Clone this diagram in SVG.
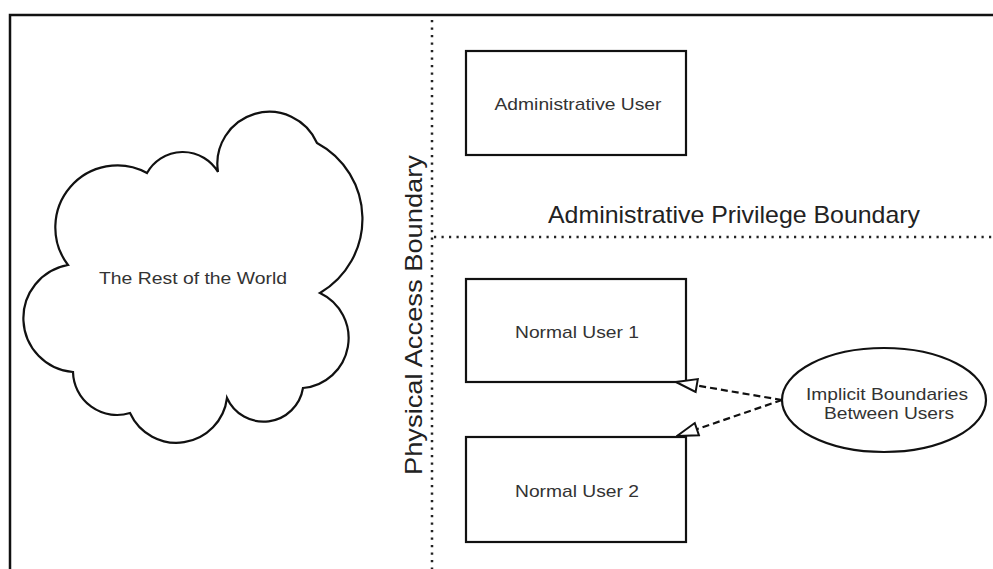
<svg xmlns="http://www.w3.org/2000/svg" width="993" height="569" viewBox="0 0 993 569">
<defs>
<style>
.frame{fill:none;stroke:#111;stroke-width:2.5}
.box{fill:#fff;stroke:#111;stroke-width:2.2}
.dot{fill:none;stroke:#222;stroke-width:2.5;stroke-dasharray:2.2 5.3}
.dash{fill:none;stroke:#111;stroke-width:2.2;stroke-dasharray:7 4}
.lbl{font-family:"Liberation Sans",Arial,sans-serif;font-size:17px;fill:#333;text-anchor:middle}
.big{font-family:"Liberation Sans",Arial,sans-serif;font-size:24px;fill:#222;text-anchor:middle}
</style>
<marker id="tri" viewBox="0 0 24 16" refX="23" refY="8" markerWidth="24" markerHeight="16" markerUnits="userSpaceOnUse" orient="auto">
<path d="M23,8 L2,1.5 L2,14.5 Z" fill="#fff" stroke="#111" stroke-width="2"/>
</marker>
</defs>
<rect width="993" height="569" fill="#fff"/>
<path class="frame" d="M10,569 V15 H993"/>
<g id="boundaries">
<line class="dot" x1="432" y1="20" x2="432" y2="569"/>
<line class="dot" x1="434" y1="237" x2="993" y2="237"/>
<text class="big" x="734" y="223" textLength="372" lengthAdjust="spacingAndGlyphs">Administrative Privilege Boundary</text>
<text class="big" transform="translate(422,315) rotate(-90)" textLength="320" lengthAdjust="spacingAndGlyphs">Physical Access Boundary</text>
</g>
<g id="world">
<path class="box" d="M218,172 A52,52 0 0 1 317,143 A86,86 0 0 1 320,293 A50,50 0 0 1 303,388 A40,40 0 0 1 227,398 A51,51 0 0 1 130,413 A44,44 0 0 1 73,372 A54,54 0 0 1 68,265 A62,62 0 0 1 147,173 A41,41 0 0 1 218,172 Z"/>
<text class="lbl" x="193" y="284" textLength="188" lengthAdjust="spacingAndGlyphs">The Rest of the World</text>
</g>
<g id="admin">
<rect class="box" x="466" y="51" width="220" height="104"/>
<text class="lbl" x="578" y="110" textLength="167" lengthAdjust="spacingAndGlyphs">Administrative User</text>
</g>
<g id="user1">
<rect class="box" x="466" y="279" width="220" height="103"/>
<text class="lbl" x="577" y="338" textLength="124" lengthAdjust="spacingAndGlyphs">Normal User 1</text>
</g>
<g id="user2">
<rect class="box" x="466" y="437" width="220" height="105"/>
<text class="lbl" x="577" y="497" textLength="124" lengthAdjust="spacingAndGlyphs">Normal User 2</text>
</g>
<g id="implicit">
<ellipse class="box" cx="884" cy="400" rx="102" ry="52"/>
<text class="lbl" x="887" y="400" textLength="162" lengthAdjust="spacingAndGlyphs">Implicit Boundaries</text>
<text class="lbl" x="889" y="419" textLength="130" lengthAdjust="spacingAndGlyphs">Between Users</text>
</g>
<g id="connectors">
<path class="dash" d="M782,400 L676,382" marker-end="url(#tri)"/>
<path class="dash" d="M782,400 L677,436" marker-end="url(#tri)"/>
</g>
</svg>
